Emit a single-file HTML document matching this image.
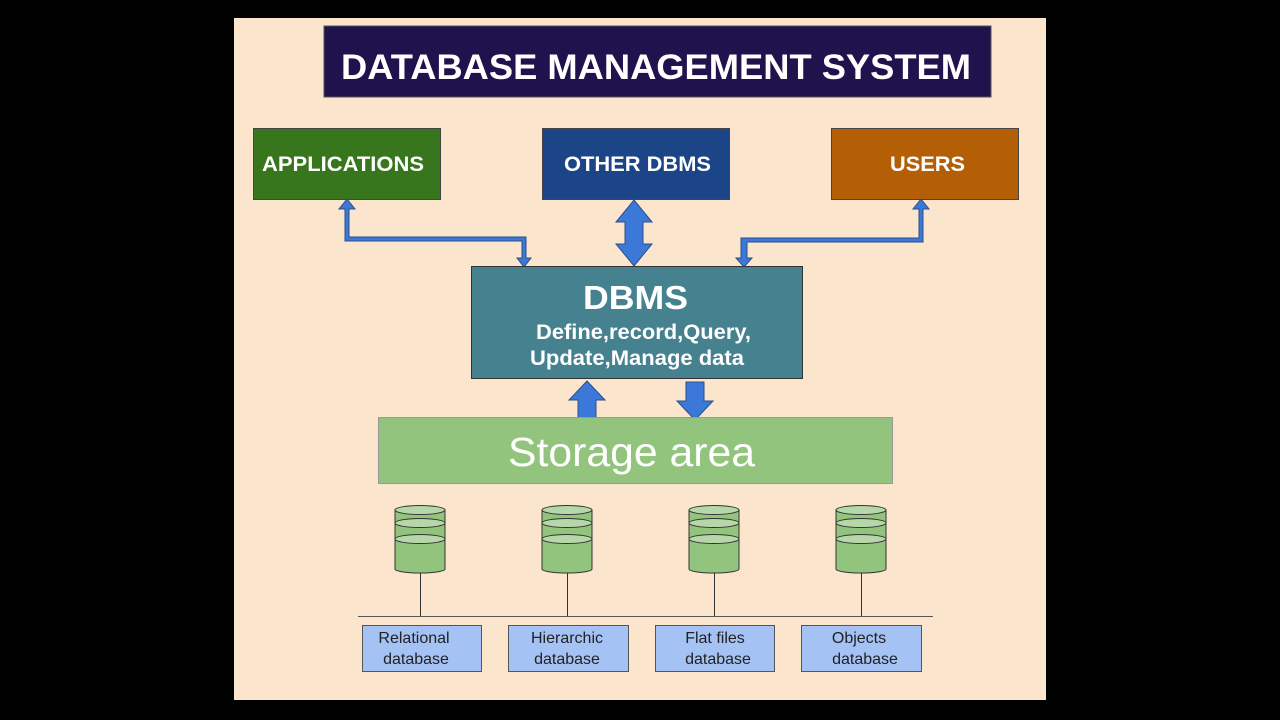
<!DOCTYPE html>
<html><head><meta charset="utf-8"><style>
body{margin:0;background:#000;width:1280px;height:720px;overflow:hidden}
svg{display:block}
text{font-family:"Liberation Sans",sans-serif}
</style></head><body>
<svg width="1280" height="720" viewBox="0 0 1280 720">
<rect x="0" y="0" width="1280" height="720" fill="#000"/>
<rect x="234" y="18" width="812" height="682" fill="#fbe5cd"/>
<rect x="324" y="26" width="667" height="71" fill="#20124d" stroke="#555" stroke-width="1"/>
<text x="341" y="79" fill="#fff" font-size="35" font-weight="bold" textLength="630" lengthAdjust="spacingAndGlyphs">DATABASE MANAGEMENT SYSTEM</text>

<rect x="253.5" y="128.5" width="187" height="71" fill="#38761d" stroke="#444"/>
<text x="262" y="171" fill="#fff" font-size="21" font-weight="bold" textLength="162" lengthAdjust="spacingAndGlyphs">APPLICATIONS</text>
<rect x="542.5" y="128.5" width="187" height="71" fill="#1c4587" stroke="#444"/>
<text x="564" y="171" fill="#fff" font-size="21" font-weight="bold" textLength="147" lengthAdjust="spacingAndGlyphs">OTHER DBMS</text>
<rect x="831.5" y="128.5" width="187" height="71" fill="#b45f06" stroke="#444"/>
<text x="890" y="171" fill="#fff" font-size="21" font-weight="bold" textLength="75" lengthAdjust="spacingAndGlyphs">USERS</text>

<g fill="#3c78d8" stroke="#2a4f8a" stroke-width="1">
<polygon points="347,199 355,209 349,209 349,237 526,237 526,258 531,258 524,267 517,258 522,258 522,241 345,241 345,209 339,209"/>
<polygon points="921,199 929,209 923,209 923,242 747,242 747,258 752,258 744,267 736,258 741,258 741,238 919,238 919,209 913,209"/>
<polygon points="634,200 652,222 643,222 643,244 652,244 634,266 616,244 625,244 625,222 616,222"/>
<polygon points="587,381 605,400 596,400 596,419 578,419 578,400 569,400"/>
<polygon points="686,382 704,382 704,401 713,401 695,420 677,401 686,401"/>
</g>

<rect x="471.5" y="266.5" width="331" height="112" fill="#45818e" stroke="#333"/>
<text x="583" y="309" fill="#fff" font-size="33" font-weight="bold" textLength="105" lengthAdjust="spacingAndGlyphs">DBMS</text>
<text x="536" y="339" fill="#fff" font-size="21" font-weight="bold" textLength="215" lengthAdjust="spacingAndGlyphs">Define,record,Query,</text>
<text x="530" y="365" fill="#fff" font-size="21" font-weight="bold" textLength="214" lengthAdjust="spacingAndGlyphs">Update,Manage data</text>

<rect x="378.5" y="417.5" width="514" height="66" fill="#93c47d" stroke="#999"/>
<text x="508" y="466" fill="#fff" font-size="41" textLength="247" lengthAdjust="spacingAndGlyphs">Storage area</text>

<g stroke="#333" stroke-width="1">
<line x1="358" y1="616.5" x2="933" y2="616.5" stroke="#555"/>
<line x1="420.5" y1="573" x2="420.5" y2="616"/>
<line x1="567.5" y1="573" x2="567.5" y2="616"/>
<line x1="714.5" y1="573" x2="714.5" y2="616"/>
<line x1="861.5" y1="573" x2="861.5" y2="616"/>
</g>

<g stroke="#333" stroke-width="1" fill="#93c47d">
<g transform="translate(420,0)">
<path d="M-25,510 L-25,569 A25,4 0 0 0 25,569 L25,510 Z"/>
<ellipse cx="0" cy="510" rx="25" ry="4.5" fill="#b6d7a8"/>
<ellipse cx="0" cy="523" rx="25" ry="4.5" fill="#b6d7a8"/>
<ellipse cx="0" cy="539" rx="25" ry="4.5" fill="#b6d7a8"/>
</g>
<g transform="translate(567,0)">
<path d="M-25,510 L-25,569 A25,4 0 0 0 25,569 L25,510 Z"/>
<ellipse cx="0" cy="510" rx="25" ry="4.5" fill="#b6d7a8"/>
<ellipse cx="0" cy="523" rx="25" ry="4.5" fill="#b6d7a8"/>
<ellipse cx="0" cy="539" rx="25" ry="4.5" fill="#b6d7a8"/>
</g>
<g transform="translate(714,0)">
<path d="M-25,510 L-25,569 A25,4 0 0 0 25,569 L25,510 Z"/>
<ellipse cx="0" cy="510" rx="25" ry="4.5" fill="#b6d7a8"/>
<ellipse cx="0" cy="523" rx="25" ry="4.5" fill="#b6d7a8"/>
<ellipse cx="0" cy="539" rx="25" ry="4.5" fill="#b6d7a8"/>
</g>
<g transform="translate(861,0)">
<path d="M-25,510 L-25,569 A25,4 0 0 0 25,569 L25,510 Z"/>
<ellipse cx="0" cy="510" rx="25" ry="4.5" fill="#b6d7a8"/>
<ellipse cx="0" cy="523" rx="25" ry="4.5" fill="#b6d7a8"/>
<ellipse cx="0" cy="539" rx="25" ry="4.5" fill="#b6d7a8"/>
</g>
</g>

<g fill="#a4c2f4" stroke="#555">
<rect x="362.5" y="625.5" width="119" height="46"/>
<rect x="508.5" y="625.5" width="120" height="46"/>
<rect x="655.5" y="625.5" width="119" height="46"/>
<rect x="801.5" y="625.5" width="120" height="46"/>
</g>
<g font-size="16" fill="#222" text-anchor="middle">
<text x="414" y="643">Relational</text><text x="416" y="664">database</text>
<text x="567" y="643">Hierarchic</text><text x="567" y="664">database</text>
<text x="715" y="643">Flat files</text><text x="718" y="664">database</text>
<text x="859" y="643">Objects</text><text x="865" y="664">database</text>
</g>
</svg>
</body></html>
